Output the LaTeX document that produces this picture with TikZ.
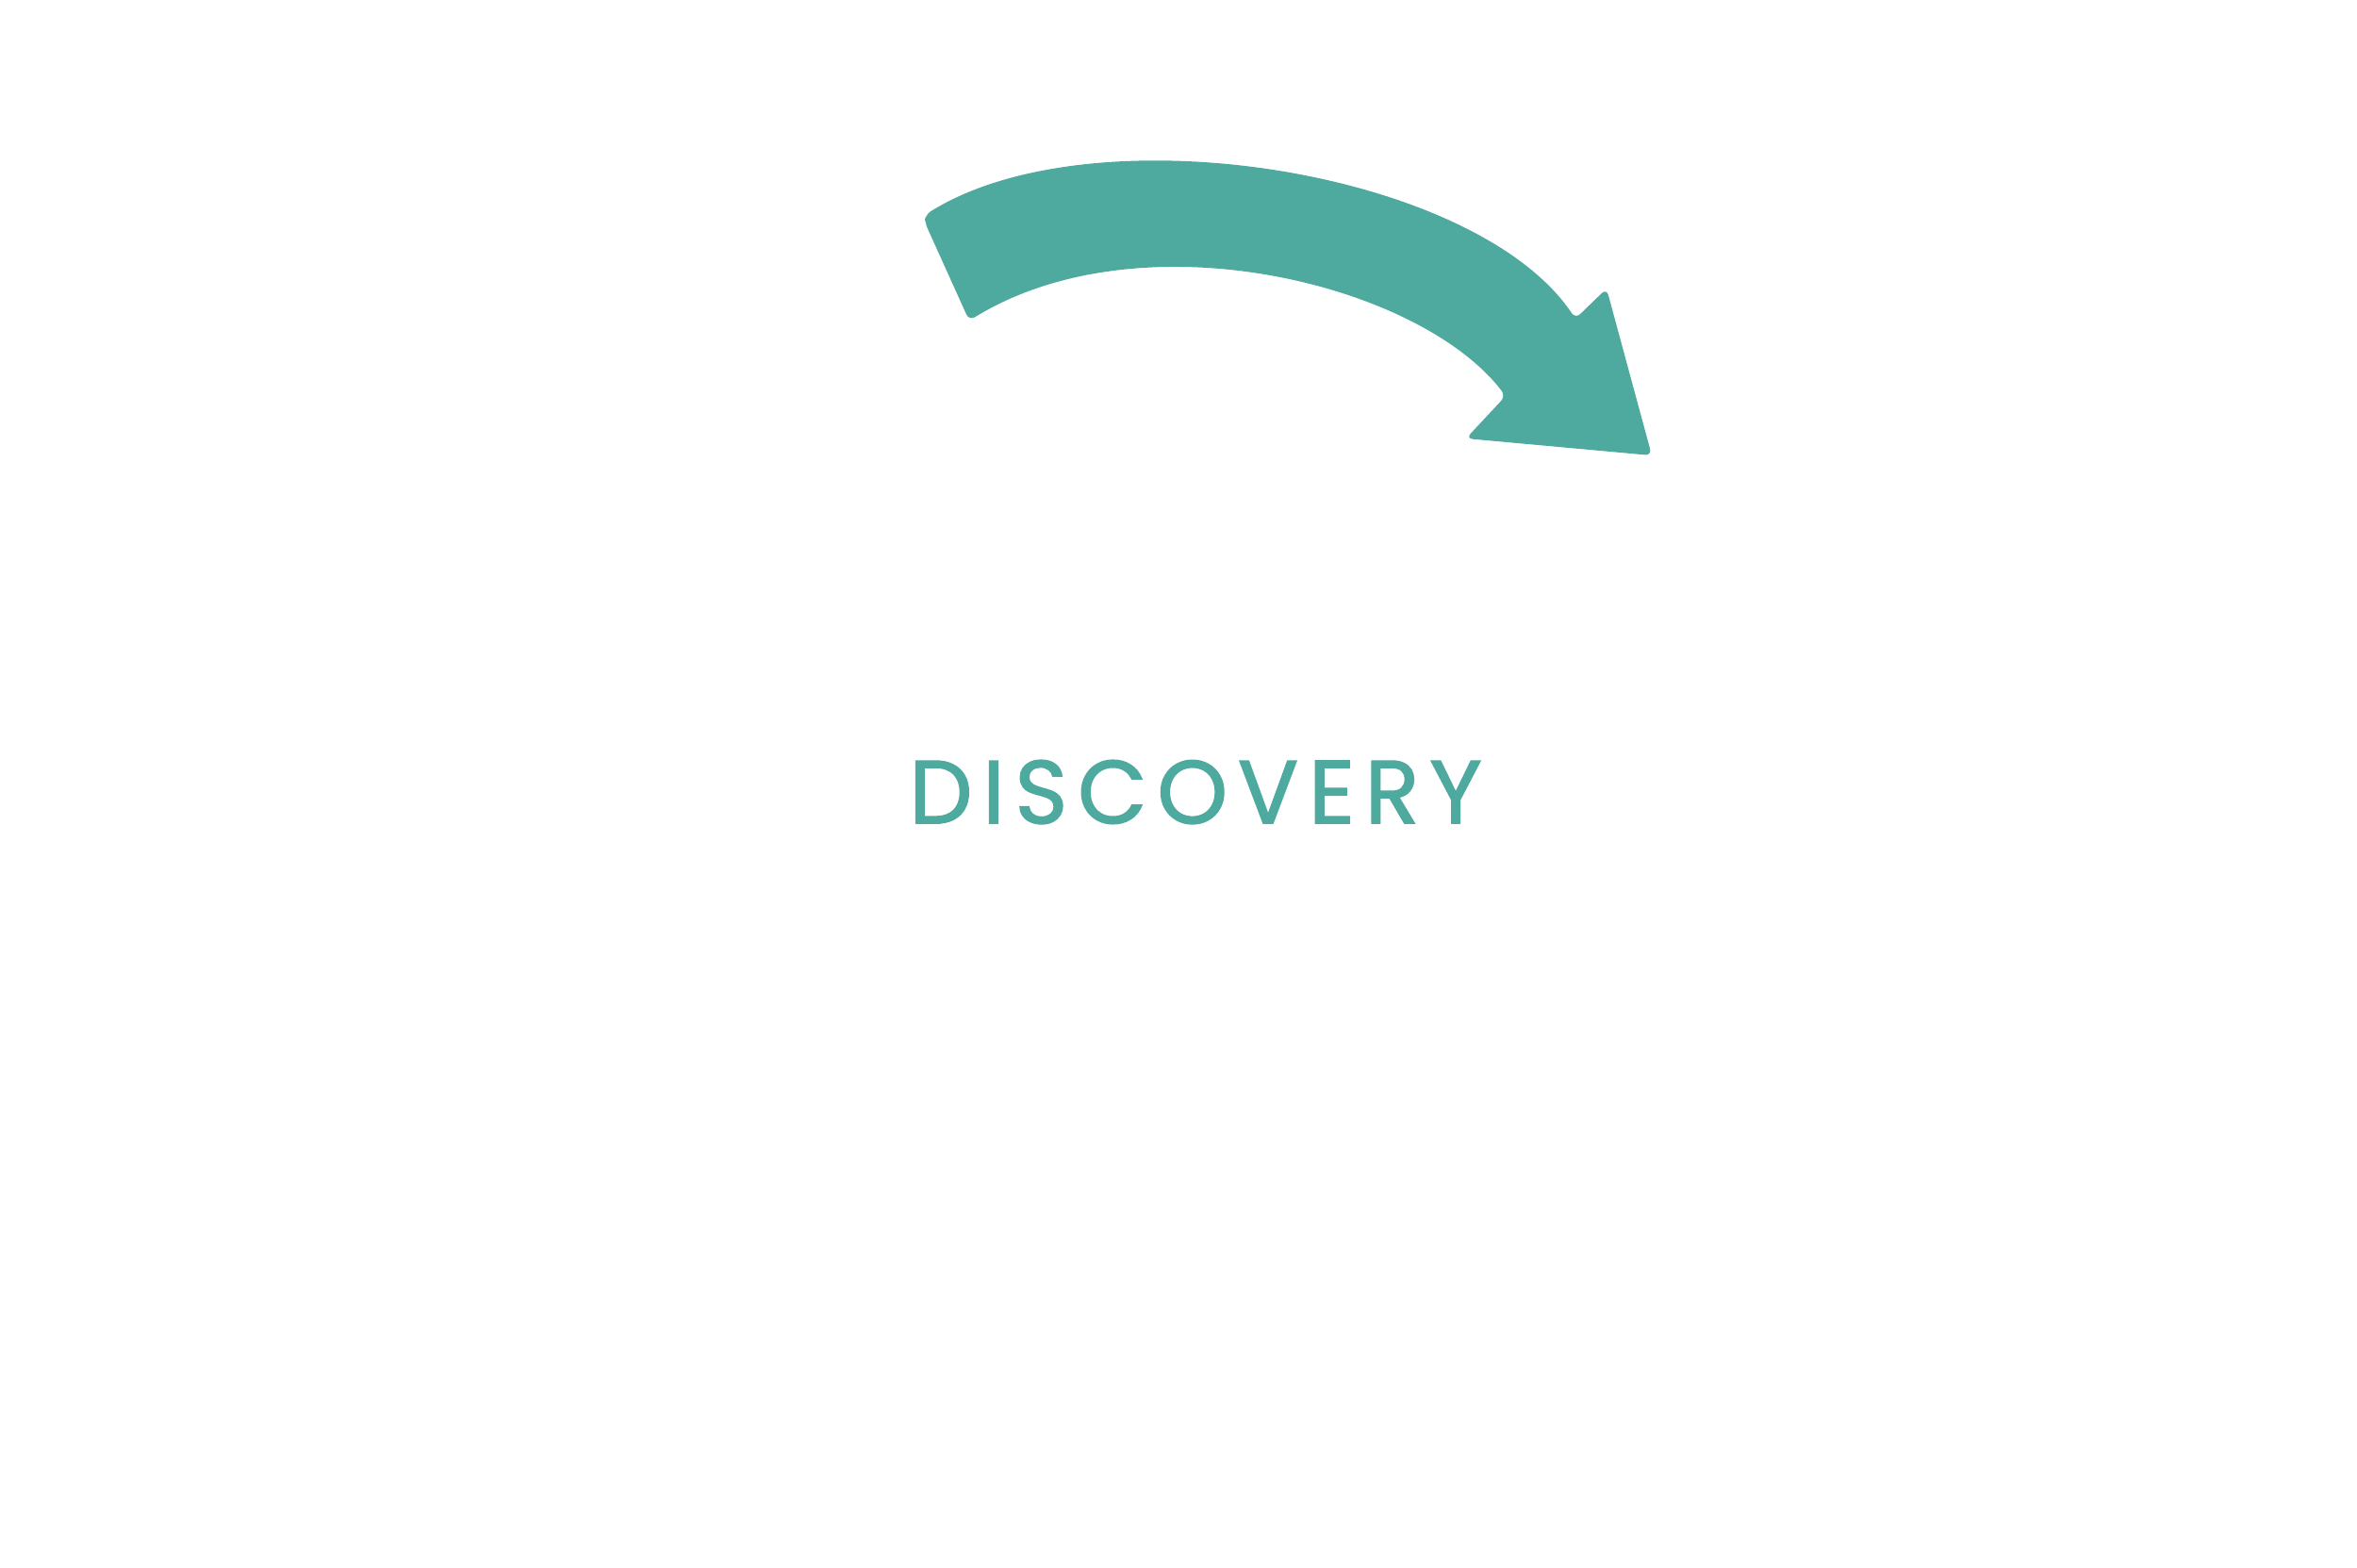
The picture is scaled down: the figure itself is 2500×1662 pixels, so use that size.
\documentclass[tikz,border=0pt]{standalone}
\usepackage{fontspec}
\setmainfont{Poppins}[FakeBold=1.6, LetterSpace=11.5]
\definecolor{teal}{RGB}{78,169,158}
\begin{document}
\begin{tikzpicture}[x=0.01cm, y=-0.01cm]
\useasboundingbox (0,0) rectangle (2500,1662);
\fill[teal, rounded corners=2pt] (981,228) .. controls (1160,116) and (1565,180) .. (1671,338)
  -- (1704,306) -- (1752,483) -- (1555,465) -- (1597,420)
  .. controls (1505,300) and (1210,228) .. (1028,340)
  -- (981,236) -- cycle;
\node[teal, font=\fontsize{27}{31}\selectfont] (title) at (1268,840) {DISCOVERY};
\end{tikzpicture}
\end{document}
